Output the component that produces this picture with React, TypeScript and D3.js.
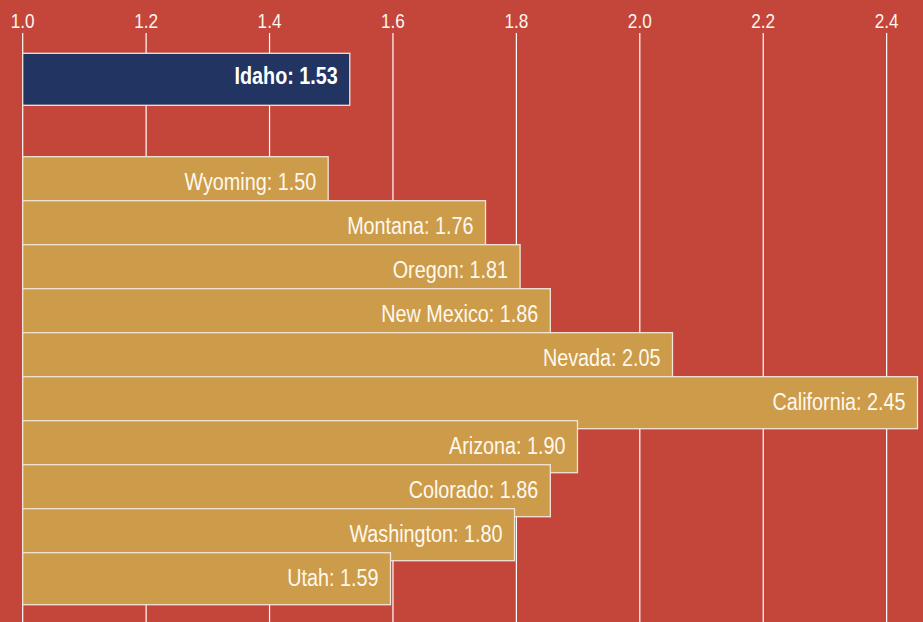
import React from "react";
import * as d3 from "d3";

// highlighted state, shown apart at the top
const focusState = "Idaho";
const focusValue = 1.53;

// the other western states, top to bottom (bar lengths as drawn, labels as printed)
const states = ["Wyoming", "Montana", "Oregon", "New Mexico", "Nevada", "California", "Arizona", "Colorado", "Washington", "Utah"];
const values = [1.495, 1.75, 1.806, 1.855, 2.053, 2.45, 1.899, 1.855, 1.797, 1.596];
const labelValues = ["1.50", "1.76", "1.81", "1.86", "2.05", "2.45", "1.90", "1.86", "1.80", "1.59"];

const ticks = [1.0, 1.2, 1.4, 1.6, 1.8, 2.0, 2.2, 2.4];

const W = 923;
const H = 622;
const FONT = "'Liberation Sans', Arial, sans-serif";
const SQUEEZE = 0.86; // fake a condensed face

export default function App() {
  const x = d3.scaleLinear().domain([1, 2.45]).range([22.7, 917.5]);
  // bars overlap a bit: step 44, height 52
  const y = d3.scaleLinear().domain([0, 1]).range([156.7, 200.7]);
  const barH = 52;
  const idahoTop = y(-2.35);

  return (
    <svg width={W} height={H} style={{ position: "absolute", left: 0, top: 0, display: "block" }}>
      <rect x={0} y={0} width={W} height={H} fill="#c4453a" />

      {/* grid + tick labels */}
      {ticks.map((t) => (
        <g key={t}>
          <line x1={x(t)} x2={x(t)} y1={33} y2={H} stroke="#ffffff" strokeWidth={1.2} />
          <text transform={`translate(${x(t)},28) scale(${SQUEEZE},1)`} textAnchor="middle"
            fill="#fff6ee" fontFamily={FONT} fontSize={20}>
            {d3.format(".1f")(t)}
          </text>
        </g>
      ))}

      {/* Idaho */}
      <rect x={x(1)} y={idahoTop} width={x(focusValue) - x(1)} height={barH}
        fill="#213462" stroke="#f2e4d8" strokeWidth={1.3} />
      <text transform={`translate(${x(focusValue) - 12},${idahoTop + 31}) scale(${SQUEEZE},1)`}
        textAnchor="end" fill="#ffffff" fontFamily={FONT} fontSize={23} fontWeight="bold">
        {focusState + ": " + focusValue.toFixed(2)}
      </text>

      {states.map((s, i) => (
        <g key={s}>
          <rect x={x(1)} y={y(i)} width={x(values[i]) - x(1)} height={barH}
            fill="#cc9c4a" stroke="#f2e4d8" strokeWidth={1.3} />
          <text transform={`translate(${x(values[i]) - 12},${y(i) + 33}) scale(${SQUEEZE},1)`}
            textAnchor="end" fill="#fff8ee" fontFamily={FONT} fontSize={23}>
            {s + ": " + labelValues[i]}
          </text>
        </g>
      ))}
    </svg>
  );
}
